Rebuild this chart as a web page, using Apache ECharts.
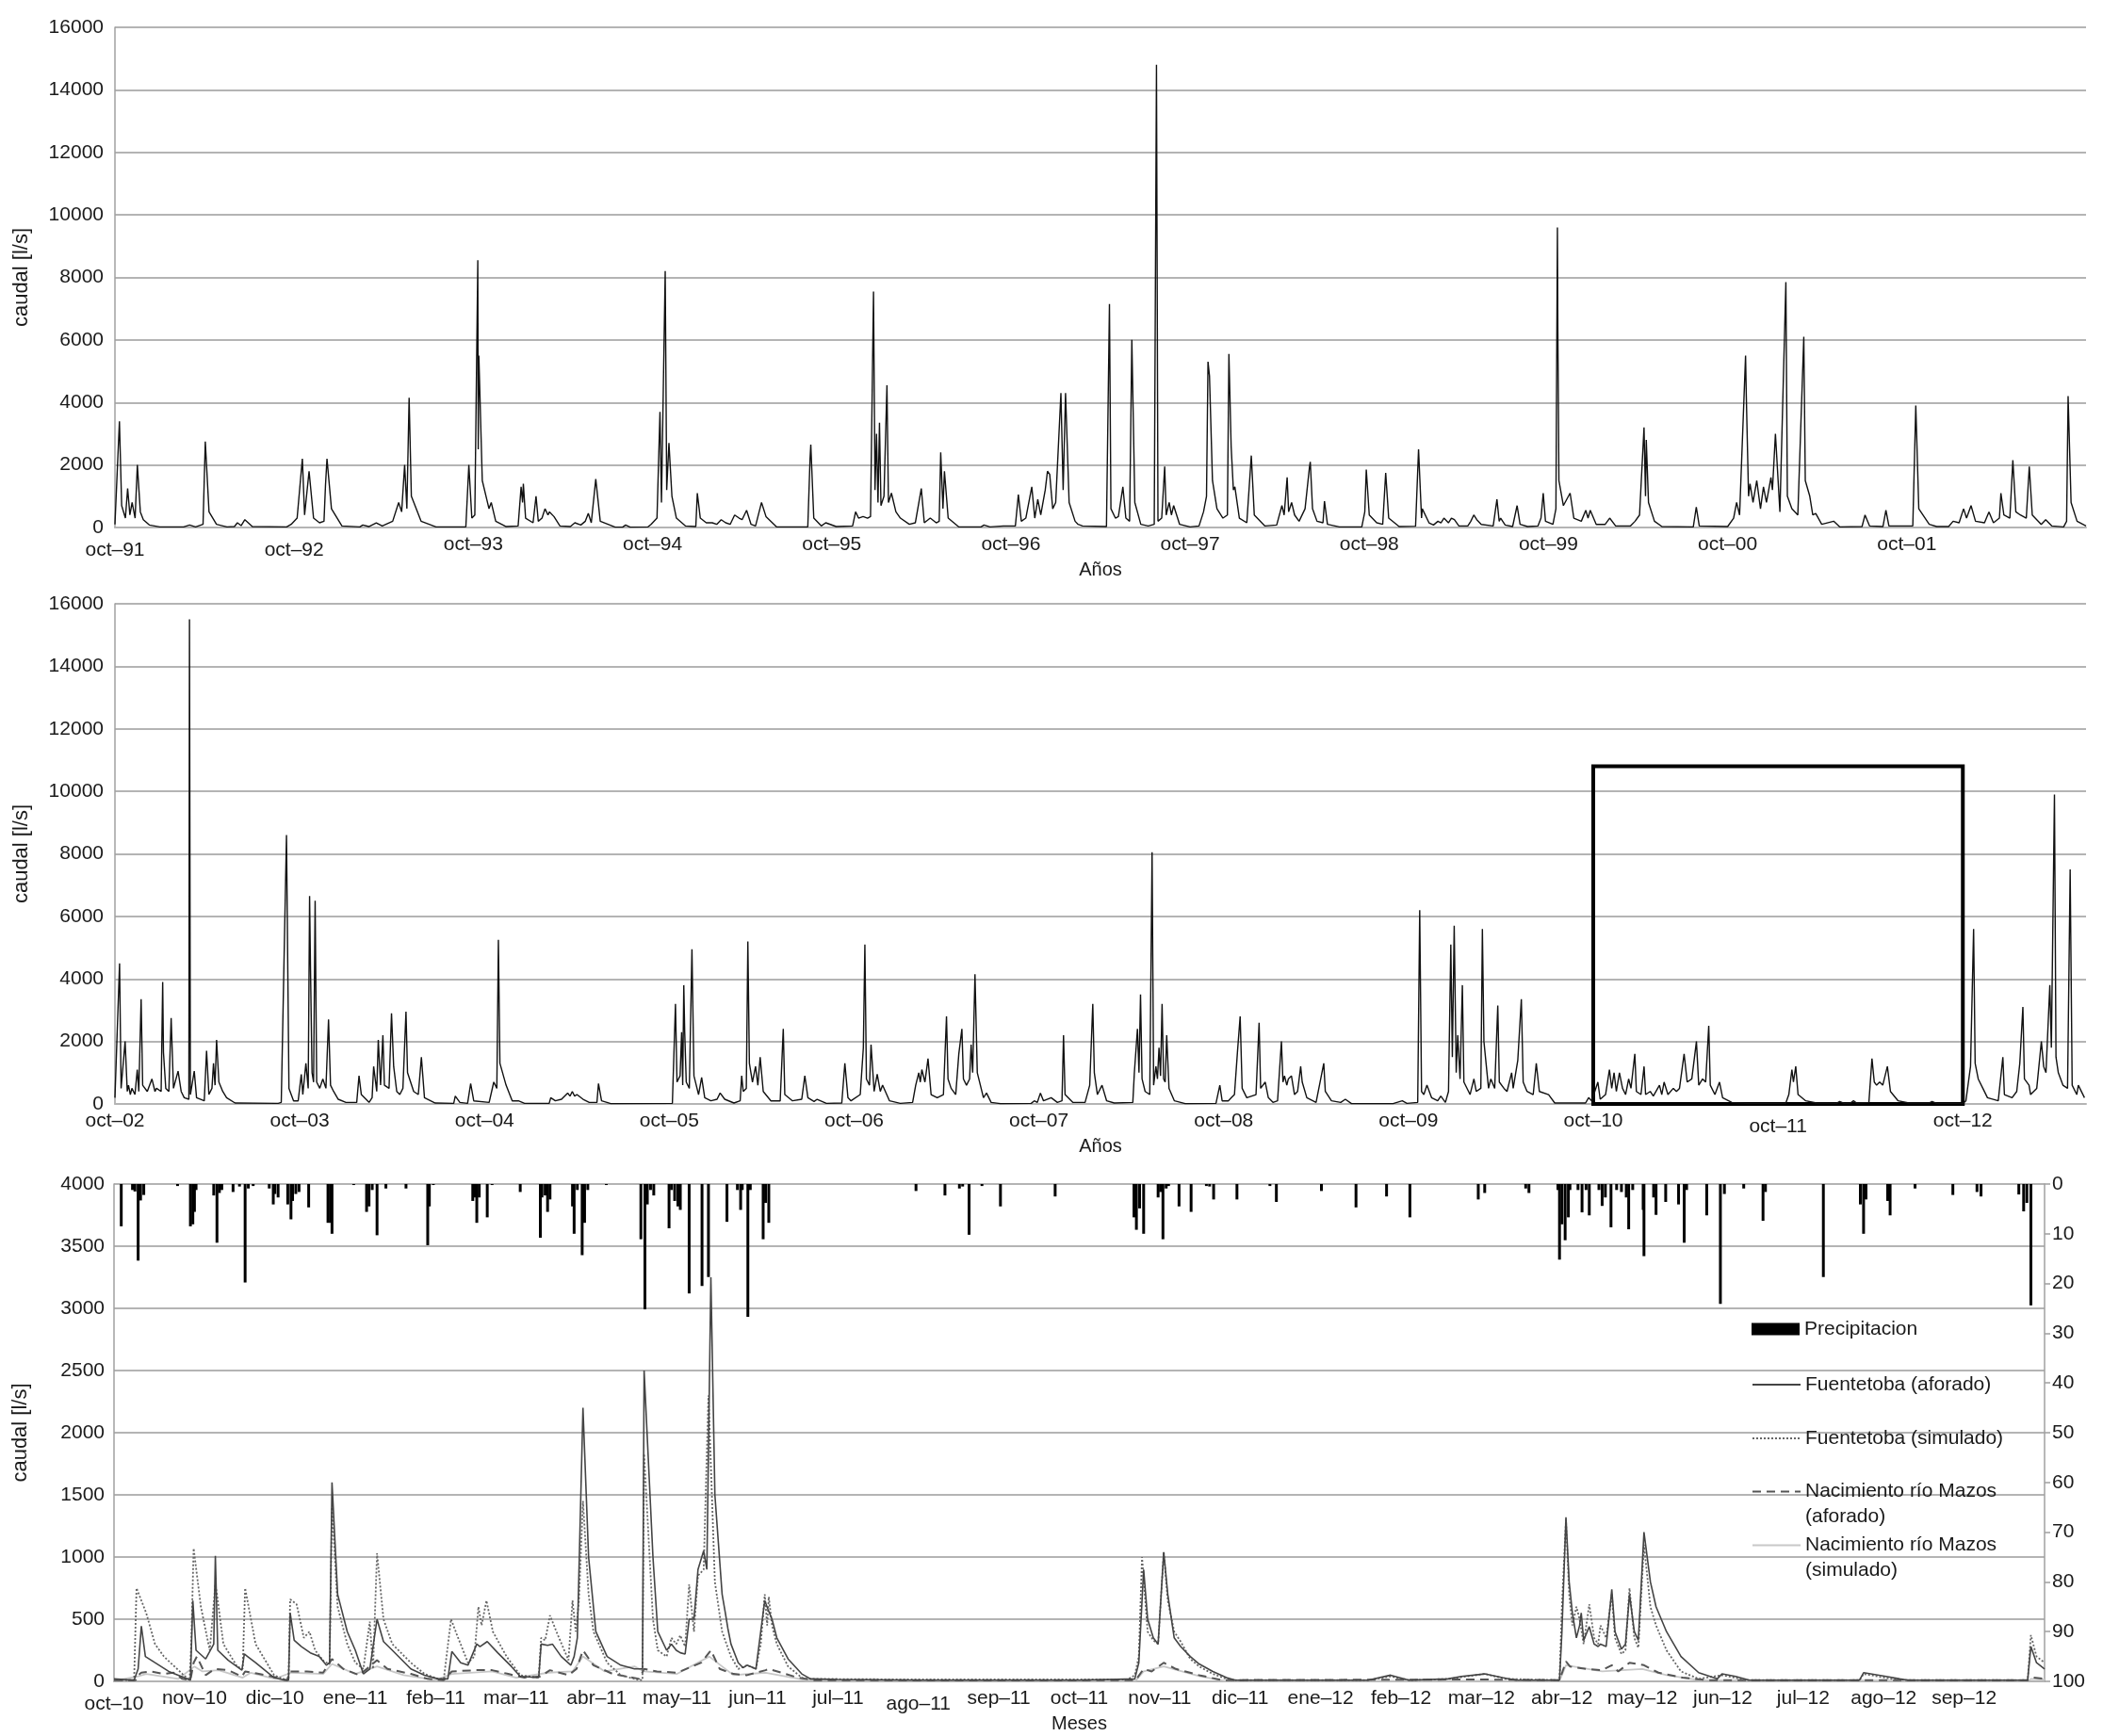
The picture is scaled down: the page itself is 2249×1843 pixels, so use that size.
<!DOCTYPE html>
<html><head><meta charset="utf-8">
<script src="https://cdn.jsdelivr.net/npm/echarts@6.0.0/dist/echarts.min.js"></script>
<style>html,body{margin:0;padding:0;background:#fff}#c{width:2249px;height:1843px}</style>
</head><body><div id="c"></div>
<script>
// ---- tick labels ----
const yearLabels9102 = ['oct–91','oct–92','oct–93','oct–94','oct–95','oct–96','oct–97','oct–98','oct–99','oct–00','oct–01'];
const yearLabels0213 = ['oct–02','oct–03','oct–04','oct–05','oct–06','oct–07','oct–08','oct–09','oct–10','oct–11','oct–12'];
const monthLabels = ['oct–10','nov–10','dic–10','ene–11','feb–11','mar–11','abr–11','may–11','jun–11','jul–11','ago–11','sep–11','oct–11','nov–11','dic–11','ene–12','feb–12','mar–12','abr–12','may–12','jun–12','jul–12','ago–12','sep–12'];
const seriesNames = ['Precipitacion','Fuentetoba (aforado)','Fuentetoba (simulado)','Nacimiento río Mazos (aforado)','Nacimiento río Mazos (simulado)'];

// ---- caudal oct-91 .. oct-02 : [months since oct-91, l/s] ----
const caudal9102 = [[0,100],[0.3,3400],[0.45,700],[0.7,300],[0.85,1250],[1.0,400],[1.15,800],[1.35,300],[1.5,2000],[1.7,500],[1.9,250],[2.3,80],[3.0,20],[4.6,20],[5.0,80],[5.4,20],[5.9,100],[6.05,2750],[6.3,500],[6.8,100],[7.5,20],[8.0,30],[8.2,150],[8.45,60],[8.7,250],[9.2,30],[11.5,20],[11.8,100],[12.2,300],[12.55,2200],[12.7,400],[13.0,1800],[13.3,300],[13.7,150],[14.0,200],[14.1,1350],[14.2,2200],[14.5,600],[15.2,50],[16.4,20],[16.6,80],[17.0,30],[17.5,150],[17.9,50],[18.6,200],[19.0,800],[19.2,500],[19.4,2000],[19.55,600],[19.7,4150],[19.85,1000],[20.5,200],[21.5,20],[23.5,20],[23.7,2000],[23.9,300],[24.1,400],[24.3,8550],[24.33,2500],[24.37,5500],[24.6,1500],[24.9,900],[25.05,600],[25.2,800],[25.5,200],[26.2,30],[27.0,50],[27.2,1300],[27.3,800],[27.35,1400],[27.5,300],[28.0,150],[28.2,1000],[28.35,200],[28.6,300],[28.8,600],[29.0,400],[29.1,500],[29.4,350],[29.8,50],[30.5,30],[30.8,150],[31.2,80],[31.5,200],[31.7,450],[31.9,150],[32.2,1550],[32.5,200],[33.5,10],[34.0,10],[34.2,80],[34.5,10],[35.7,20],[35.9,100],[36.3,300],[36.5,3700],[36.6,800],[36.85,8200],[36.95,1200],[37.1,2700],[37.3,1000],[37.6,300],[38.2,50],[38.9,30],[39.0,1100],[39.2,300],[39.6,150],[40.0,150],[40.3,100],[40.6,250],[40.9,150],[41.2,100],[41.5,400],[41.8,300],[42.0,250],[42.3,550],[42.6,100],[42.9,50],[43.3,800],[43.6,350],[44.3,20],[46.4,20],[46.55,2200],[46.6,2650],[46.8,300],[47.3,50],[47.6,150],[48.3,30],[49.4,50],[49.6,500],[49.8,300],[50.1,350],[50.4,300],[50.6,350],[50.8,7550],[50.9,1200],[51.0,3000],[51.1,800],[51.2,3350],[51.3,700],[51.5,1000],[51.7,4550],[51.8,800],[52.0,1100],[52.3,500],[52.6,300],[53.2,100],[53.6,150],[54.0,1250],[54.2,150],[54.6,300],[55.0,150],[55.2,200],[55.3,2400],[55.45,600],[55.55,1800],[55.8,300],[56.5,20],[58.0,20],[58.2,80],[58.6,20],[59.5,50],[60.3,50],[60.5,1050],[60.7,200],[61.0,300],[61.4,1300],[61.6,300],[61.8,900],[62.0,400],[62.3,1200],[62.45,1800],[62.6,1700],[62.8,600],[63.0,800],[63.35,4300],[63.5,1200],[63.66,4300],[63.9,800],[64.3,200],[64.5,100],[64.8,50],[66.4,30],[66.6,7150],[66.7,600],[67.0,300],[67.2,350],[67.5,1300],[67.7,300],[67.95,200],[68.1,6000],[68.3,800],[68.7,100],[69.2,50],[69.6,100],[69.75,14800],[69.85,200],[70.1,300],[70.3,1950],[70.4,400],[70.6,800],[70.75,400],[70.9,700],[71.3,100],[72.0,20],[72.6,50],[72.9,500],[73.1,1000],[73.2,5300],[73.3,4850],[73.5,1500],[73.8,600],[74.2,300],[74.5,400],[74.6,5550],[74.75,2600],[74.9,1200],[75.0,1300],[75.3,300],[75.8,150],[76.1,2300],[76.3,400],[77.0,50],[77.8,80],[78.15,700],[78.3,400],[78.5,1600],[78.6,500],[78.8,800],[79.0,400],[79.3,200],[79.7,600],[80.0,1950],[80.05,2100],[80.2,600],[80.5,200],[80.9,150],[81.0,840],[81.2,100],[82.0,20],[83.5,20],[83.7,500],[83.8,1850],[84.0,400],[84.5,150],[84.9,100],[85.1,1750],[85.3,300],[86.0,30],[87.1,40],[87.3,2500],[87.5,300],[87.55,600],[88.0,150],[88.3,80],[88.6,200],[88.8,150],[89.0,300],[89.3,150],[89.5,300],[89.7,250],[90.0,50],[90.6,50],[90.8,200],[91.0,400],[91.2,250],[91.5,100],[92.3,50],[92.55,900],[92.7,200],[92.8,300],[93.1,80],[93.6,30],[93.9,700],[94.1,100],[94.6,30],[95.3,50],[95.5,300],[95.65,1100],[95.8,200],[96.3,100],[96.5,600],[96.6,9600],[96.63,6300],[96.7,1500],[97.0,700],[97.45,1100],[97.7,300],[98.2,200],[98.5,550],[98.65,300],[98.8,550],[99.2,100],[99.8,100],[100.1,300],[100.5,50],[101.5,50],[101.8,200],[102.1,400],[102.4,3200],[102.5,1000],[102.55,2800],[102.7,800],[103.1,200],[103.6,30],[105.7,20],[105.9,650],[106.1,50],[108.0,30],[108.4,300],[108.6,800],[108.8,400],[109.2,5500],[109.25,4200],[109.4,1000],[109.5,1400],[109.7,800],[109.95,1500],[110.2,600],[110.4,1300],[110.6,800],[110.9,1600],[111.0,1200],[111.2,3000],[111.5,500],[111.9,7850],[112.0,1000],[112.3,600],[112.7,400],[113.1,6100],[113.2,1500],[113.5,1000],[113.7,400],[113.9,450],[114.3,100],[115.1,200],[115.5,20],[117.0,30],[117.2,400],[117.5,50],[118.4,30],[118.6,550],[118.8,50],[120.4,50],[120.6,3900],[120.8,600],[121.5,100],[122.0,30],[122.8,30],[123.1,200],[123.5,150],[123.8,600],[124.0,300],[124.3,700],[124.6,200],[125.2,150],[125.5,500],[125.8,150],[126.2,300],[126.3,1100],[126.5,400],[126.9,300],[127.1,2150],[127.3,500],[127.6,400],[128.0,300],[128.2,1950],[128.4,400],[129.0,100],[129.3,250],[129.7,50],[130.5,20],[130.7,200],[130.8,4200],[131.0,800],[131.4,200],[132.0,50]];

// ---- caudal oct-02 .. 2013 : [months since oct-02, l/s] ----
const caudal0213 = [[0,200],[0.3,4500],[0.4,500],[0.66,2000],[0.8,400],[0.88,600],[1.0,300],[1.1,500],[1.3,300],[1.45,1100],[1.55,400],[1.7,3350],[1.8,600],[2.1,400],[2.4,800],[2.6,400],[2.7,500],[3.0,400],[3.1,3900],[3.15,1650],[3.3,500],[3.5,400],[3.65,2750],[3.8,500],[4.1,1050],[4.3,400],[4.5,200],[4.8,150],[4.84,15500],[4.9,300],[5.15,1050],[5.3,200],[5.8,100],[5.95,1700],[6.1,300],[6.3,500],[6.4,1300],[6.5,600],[6.6,2050],[6.75,700],[7.0,400],[7.25,200],[7.8,30],[10.6,20],[10.8,50],[11.14,8600],[11.3,500],[11.6,100],[11.9,100],[12.1,950],[12.2,300],[12.4,1300],[12.55,500],[12.64,6650],[12.7,4300],[12.8,1000],[12.9,700],[13.0,6500],[13.1,700],[13.3,500],[13.5,800],[13.7,500],[13.87,2700],[14.0,600],[14.2,400],[14.5,150],[15.0,50],[15.7,50],[15.85,900],[16.0,300],[16.5,50],[16.7,200],[16.8,1200],[17.0,400],[17.1,2050],[17.25,600],[17.4,2200],[17.5,600],[17.8,500],[17.96,2900],[18.1,1200],[18.3,400],[18.5,300],[18.7,500],[18.9,2950],[19.0,1000],[19.4,400],[19.7,300],[19.9,1500],[20.1,200],[20.8,30],[22.0,20],[22.1,250],[22.4,50],[22.9,20],[23.1,650],[23.3,100],[24.3,50],[24.6,700],[24.8,500],[24.9,5250],[25.0,1300],[25.4,600],[25.8,100],[26.2,100],[26.6,20],[28.2,20],[28.3,200],[28.6,100],[29.0,150],[29.4,350],[29.55,250],[29.7,400],[29.85,250],[30.0,300],[30.4,150],[30.8,50],[31.3,50],[31.4,650],[31.6,100],[32.2,10],[36.2,20],[36.3,50],[36.4,3200],[36.5,700],[36.7,900],[36.8,2300],[36.87,600],[36.94,3800],[37.0,2300],[37.1,700],[37.3,500],[37.47,4950],[37.6,900],[37.9,300],[38.1,850],[38.3,200],[38.7,100],[39.1,150],[39.3,350],[39.6,150],[40.2,30],[40.6,100],[40.7,900],[40.8,400],[41.0,500],[41.1,5200],[41.2,1300],[41.4,700],[41.6,1200],[41.75,600],[41.9,1500],[42.1,400],[42.6,100],[43.2,100],[43.4,2400],[43.5,300],[44.0,100],[44.6,150],[44.8,900],[45.0,200],[45.4,80],[45.6,150],[46.2,20],[47.2,30],[47.4,1300],[47.6,200],[47.8,100],[48.4,300],[48.6,1800],[48.7,5100],[48.8,800],[49.0,600],[49.1,1900],[49.3,400],[49.5,950],[49.7,400],[49.85,600],[50.3,100],[51.0,20],[51.8,50],[52.0,600],[52.2,1000],[52.3,700],[52.4,1100],[52.6,700],[52.8,1450],[53.0,300],[53.4,200],[53.8,300],[54.0,2800],[54.1,800],[54.3,500],[54.6,300],[54.8,1600],[55.0,2400],[55.1,800],[55.3,600],[55.5,800],[55.6,1900],[55.7,1000],[55.85,4150],[56.0,1000],[56.4,200],[56.6,350],[56.9,50],[57.5,10],[59.5,20],[59.7,100],[59.9,50],[60.1,350],[60.3,100],[60.8,200],[61.2,50],[61.5,100],[61.6,2200],[61.7,300],[62.2,50],[63.0,50],[63.3,600],[63.5,3200],[63.6,1000],[63.8,300],[64.1,600],[64.4,100],[64.9,30],[66.1,50],[66.2,1000],[66.4,2400],[66.5,1000],[66.6,3500],[66.7,800],[66.9,400],[67.2,300],[67.35,8050],[67.45,600],[67.6,1200],[67.7,800],[67.8,1800],[67.9,900],[68.0,3200],[68.1,800],[68.2,700],[68.3,2200],[68.45,500],[68.8,100],[69.5,10],[71.5,20],[71.75,600],[71.9,100],[72.3,100],[72.5,200],[72.7,300],[72.9,1700],[73.07,2800],[73.2,500],[73.5,200],[74.1,300],[74.3,2600],[74.4,500],[74.7,700],[74.9,200],[75.2,50],[75.5,100],[75.75,2000],[75.85,700],[75.95,900],[76.1,600],[76.2,800],[76.4,900],[76.6,300],[76.8,400],[77.0,1200],[77.1,700],[77.4,200],[78.0,50],[78.5,1300],[78.6,400],[79.0,100],[79.6,50],[79.9,150],[80.3,10],[83.0,10],[83.6,100],[83.9,20],[84.6,50],[84.73,6200],[84.85,400],[85.0,300],[85.2,600],[85.5,200],[85.9,100],[86.1,250],[86.4,50],[86.6,400],[86.75,5100],[86.85,1500],[86.97,5700],[87.1,1000],[87.2,2200],[87.35,800],[87.5,3800],[87.6,700],[88.0,300],[88.25,800],[88.4,400],[88.7,500],[88.8,5600],[88.9,2000],[89.1,1000],[89.2,500],[89.35,800],[89.6,500],[89.8,3150],[89.9,700],[90.2,500],[90.4,400],[90.7,1000],[90.8,500],[91.1,1400],[91.33,3350],[91.45,700],[91.7,400],[92.1,300],[92.3,1300],[92.5,400],[93.1,300],[93.5,30],[95.5,30],[95.7,200],[95.9,100],[96.3,700],[96.45,150],[96.8,300],[97.05,1100],[97.2,500],[97.35,1000],[97.5,400],[97.7,1000],[97.9,500],[98.1,300],[98.3,800],[98.45,500],[98.7,1600],[98.8,400],[99.1,300],[99.3,1200],[99.4,300],[99.7,400],[99.9,250],[100.0,300],[100.3,600],[100.45,300],[100.6,700],[100.85,300],[101.2,500],[101.4,400],[101.6,500],[101.9,1600],[102.1,700],[102.4,800],[102.7,2000],[102.85,600],[103.1,800],[103.3,700],[103.5,2500],[103.6,600],[103.9,300],[104.2,700],[104.4,200],[105.0,50],[106.0,20],[108.5,20],[108.7,300],[108.9,1100],[109.0,700],[109.15,1200],[109.3,300],[109.8,100],[110.5,30],[111.8,20],[112.0,80],[112.3,20],[112.7,30],[112.9,100],[113.1,30],[113.9,50],[114.1,1450],[114.25,700],[114.4,600],[114.6,700],[114.8,600],[115.1,1200],[115.3,400],[115.8,100],[116.5,30],[117.8,30],[118.0,80],[118.3,20],[120.0,20],[120.2,100],[120.5,1200],[120.7,5600],[120.8,1300],[121.0,800],[121.3,500],[121.6,200],[122.3,100],[122.6,1500],[122.7,300],[123.2,200],[123.5,400],[123.7,1300],[123.9,3100],[124.0,800],[124.3,600],[124.4,300],[124.8,500],[125.1,2000],[125.25,1200],[125.4,1000],[125.65,3800],[125.75,1800],[125.95,9900],[126.05,1500],[126.2,1000],[126.5,600],[126.8,500],[126.97,7500],[127.1,600],[127.4,300],[127.5,600],[127.9,200]];

// ---- detail oct-10 .. oct-12 : [months since oct-10, value] ----
const fuentetobaAforado = [[0,20],[0.25,10],[0.3,100],[0.34,445],[0.39,200],[0.51,150],[0.68,80],[0.91,20],[0.95,10],[0.98,650],[1.02,250],[1.14,180],[1.24,300],[1.26,1010],[1.29,250],[1.42,170],[1.59,90],[1.62,220],[1.66,200],[1.76,150],[1.99,30],[2.12,10],[2.17,10],[2.19,550],[2.24,330],[2.33,280],[2.44,230],[2.55,200],[2.64,130],[2.68,150],[2.71,1600],[2.78,700],[2.9,400],[3.0,250],[3.1,60],[3.18,100],[3.27,500],[3.35,320],[3.46,250],[3.69,100],[3.86,50],[4.03,20],[4.15,20],[4.2,240],[4.31,150],[4.4,130],[4.51,300],[4.55,280],[4.64,320],[4.77,230],[4.94,120],[5.05,40],[5.28,30],[5.31,300],[5.39,290],[5.45,300],[5.56,200],[5.68,130],[5.72,200],[5.76,350],[5.83,2200],[5.9,1000],[5.99,400],[6.13,200],[6.3,130],[6.47,100],[6.57,100],[6.59,2500],[6.7,1000],[6.76,400],[6.87,250],[6.93,300],[6.99,250],[7.04,230],[7.1,220],[7.15,500],[7.21,500],[7.26,900],[7.33,1050],[7.37,900],[7.42,3250],[7.47,1500],[7.56,700],[7.6,550],[7.63,430],[7.67,300],[7.76,150],[7.82,110],[7.87,130],[7.98,100],[8.04,400],[8.09,650],[8.13,580],[8.18,500],[8.24,350],[8.38,180],[8.55,60],[8.66,20],[9.0,15],[10.0,10],[11.0,10],[12.0,10],[12.69,20],[12.74,150],[12.8,900],[12.85,500],[12.92,350],[12.98,300],[13.05,1040],[13.1,700],[13.18,350],[13.26,280],[13.38,200],[13.49,140],[13.66,80],[13.83,30],[13.94,10],[15.59,10],[15.87,50],[16.1,10],[16.58,20],[16.75,40],[17.04,60],[17.26,30],[17.43,10],[17.97,10],[18.0,400],[18.05,1320],[18.09,800],[18.13,550],[18.18,350],[18.22,450],[18.24,550],[18.27,330],[18.34,440],[18.4,300],[18.45,280],[18.48,300],[18.55,280],[18.62,740],[18.66,400],[18.74,260],[18.79,300],[18.84,700],[18.9,400],[18.95,330],[19.02,1200],[19.1,800],[19.17,600],[19.3,400],[19.48,200],[19.7,70],[19.93,20],[19.99,60],[20.16,40],[20.33,10],[21.7,10],[21.75,70],[22.03,40],[22.2,20],[22.3,10],[23.79,10],[23.83,280],[23.9,150],[24.0,100]];

const fuentetobaSimulado = [[0,10],[0.25,10],[0.28,750],[0.4,550],[0.51,300],[0.62,200],[0.85,60],[0.94,10],[0.96,300],[0.99,1070],[1.08,600],[1.19,250],[1.26,780],[1.28,700],[1.36,300],[1.53,120],[1.6,100],[1.63,750],[1.76,300],[1.99,50],[2.14,10],[2.17,10],[2.19,660],[2.27,620],[2.36,350],[2.43,400],[2.5,250],[2.61,160],[2.68,140],[2.71,1400],[2.78,600],[2.9,300],[3.0,150],[3.1,100],[3.18,480],[3.22,100],[3.27,1030],[3.35,500],[3.46,300],[3.69,150],[3.86,60],[4.03,20],[4.1,20],[4.19,500],[4.26,380],[4.4,150],[4.48,200],[4.53,600],[4.57,450],[4.63,650],[4.71,400],[4.88,200],[5.05,50],[5.28,30],[5.31,350],[5.36,330],[5.42,530],[5.5,400],[5.65,170],[5.7,650],[5.74,400],[5.78,650],[5.83,1450],[5.9,700],[5.96,400],[6.13,150],[6.3,50],[6.53,10],[6.57,10],[6.59,1830],[6.7,500],[6.76,250],[6.87,200],[6.93,350],[6.99,300],[7.04,370],[7.1,280],[7.15,780],[7.21,400],[7.26,850],[7.33,900],[7.39,2300],[7.47,800],[7.56,400],[7.67,200],[7.76,100],[7.87,130],[7.98,100],[8.04,300],[8.09,700],[8.12,450],[8.14,680],[8.18,450],[8.24,300],[8.38,120],[8.55,30],[8.66,20],[10.0,15],[12.6,15],[12.69,50],[12.74,200],[12.78,1000],[12.85,400],[12.92,330],[12.98,300],[13.05,1040],[13.1,650],[13.18,400],[13.26,320],[13.38,180],[13.49,120],[13.66,60],[13.83,20],[13.94,10],[15.6,10],[15.87,40],[16.1,10],[16.6,20],[17.04,60],[17.3,20],[17.97,10],[18.0,600],[18.05,1300],[18.09,700],[18.13,450],[18.18,600],[18.22,500],[18.27,300],[18.34,620],[18.4,350],[18.45,300],[18.48,450],[18.55,350],[18.62,700],[18.66,350],[18.74,220],[18.79,250],[18.84,750],[18.9,350],[18.95,270],[19.02,1100],[19.1,600],[19.17,450],[19.3,250],[19.48,80],[19.7,20],[19.99,50],[20.3,10],[21.7,10],[21.75,60],[22.1,20],[22.3,10],[23.79,10],[23.83,372],[23.9,200],[24.0,150]];

const mazosAforado = [[0,10],[0.27,10],[0.3,50],[0.34,70],[0.45,80],[0.62,60],[0.74,70],[0.85,20],[0.95,10],[0.99,150],[1.03,200],[1.14,50],[1.25,100],[1.42,90],[1.59,40],[1.63,80],[1.8,60],[2.03,30],[2.15,10],[2.19,80],[2.4,80],[2.6,70],[2.71,180],[2.85,100],[3.05,50],[3.27,170],[3.4,100],[3.69,60],[3.9,20],[4.1,10],[4.2,80],[4.5,90],[4.7,90],[4.9,60],[5.1,30],[5.3,40],[5.42,90],[5.65,50],[5.75,100],[5.83,250],[5.96,130],[6.2,60],[6.53,20],[6.59,100],[6.75,80],[7.0,70],[7.3,150],[7.42,250],[7.53,100],[7.7,60],[7.87,50],[8.1,90],[8.14,100],[8.3,70],[8.5,30],[8.7,10],[12.7,10],[12.8,100],[12.9,80],[13.05,150],[13.2,100],[13.49,50],[13.77,10],[17.0,15],[17.97,10],[18.05,160],[18.1,120],[18.3,100],[18.5,90],[18.62,130],[18.7,80],[18.84,150],[19.02,130],[19.2,70],[19.5,30],[19.8,10],[23.8,10],[23.86,30],[24.0,20]];

const mazosSimulado = [[0,5],[0.3,40],[0.4,60],[0.8,20],[1.0,120],[1.1,80],[1.3,90],[1.6,30],[1.7,70],[2.0,20],[2.2,70],[2.6,60],[2.71,140],[3.0,60],[3.27,120],[3.6,50],[4.0,10],[4.2,60],[4.7,80],[5.0,30],[5.4,70],[5.7,80],[5.83,200],[6.1,80],[6.47,120],[6.59,80],[7.0,60],[7.4,200],[7.7,50],[8.1,70],[8.6,10],[12.7,5],[12.8,80],[13.05,120],[13.5,40],[13.8,5],[17.97,5],[18.05,130],[18.5,80],[19.0,100],[19.3,50],[19.7,10],[23.8,5],[23.83,20],[24.0,15]];

const precipitacion = [[0.09,8.5],[0.23,1.2],[0.26,1.5],[0.3,15.4],[0.33,3.3],[0.37,2.2],[0.79,0.4],[0.95,8.5],[0.98,8.1],[1.0,5.6],[1.02,1.2],[1.24,2.3],[1.28,11.8],[1.31,1.8],[1.34,1.2],[1.48,1.6],[1.56,0.5],[1.63,19.8],[1.67,0.9],[1.73,0.4],[1.93,0.9],[1.98,4.1],[2.0,2.0],[2.04,2.7],[2.16,4.1],[2.2,7.1],[2.22,3.4],[2.26,2.0],[2.3,1.6],[2.42,4.7],[2.66,7.8],[2.69,7.8],[2.71,10],[2.98,0.2],[3.14,5.6],[3.17,4.5],[3.21,1.2],[3.27,10.3],[3.38,0.9],[3.63,0.9],[3.9,12.3],[3.92,4.5],[3.97,0.2],[4.46,3.4],[4.48,2.7],[4.51,7.8],[4.54,2.7],[4.64,6.7],[4.7,0.2],[5.05,1.6],[5.3,10.8],[5.32,2.7],[5.36,2.3],[5.39,5.6],[5.42,3.1],[5.7,4.5],[5.72,10],[5.76,1.2],[5.82,14.3],[5.85,7.8],[5.89,1.2],[6.12,0.2],[6.55,11.1],[6.6,25.2],[6.63,4.1],[6.67,1.2],[6.71,2.3],[6.9,8.9],[6.93,1.2],[6.97,3.4],[7.01,4.5],[7.04,5.2],[7.15,22],[7.31,20.5],[7.39,18.7],[7.62,7.6],[7.75,1.2],[7.79,5.2],[7.81,1.2],[7.88,26.7],[7.91,1.2],[8.07,11.1],[8.1,3.8],[8.14,7.8],[9.97,1.4],[10.33,2.3],[10.51,0.9],[10.55,0.5],[10.63,10.2],[10.79,0.4],[11.02,4.5],[11.7,2.5],[12.68,6.7],[12.71,9.2],[12.75,4.9],[12.8,10],[12.98,2.7],[13.01,1.6],[13.04,11.1],[13.08,0.9],[13.11,0.4],[13.24,4.5],[13.39,5.6],[13.58,0.4],[13.62,0.5],[13.67,3.1],[13.96,3.1],[14.37,0.4],[14.45,3.6],[15.01,1.4],[15.44,4.7],[15.82,2.5],[16.11,6.7],[16.96,3.1],[17.04,1.8],[17.55,0.9],[17.59,1.8],[17.95,1.2],[17.97,15.2],[18.0,8.1],[18.04,11.3],[18.08,6.7],[18.1,1.2],[18.2,1.2],[18.25,5.7],[18.3,1.2],[18.34,6.3],[18.46,1.2],[18.5,4.4],[18.54,2.7],[18.61,8.7],[18.68,1.2],[18.74,1.6],[18.8,2.7],[18.83,9.1],[18.88,1.2],[19.01,5.2],[19.02,14.5],[19.14,2.7],[19.17,6.2],[19.29,3.6],[19.45,4.1],[19.52,11.8],[19.55,1.2],[19.8,6.3],[19.97,24.1],[20.02,2.0],[20.26,0.9],[20.5,7.4],[20.53,1.6],[21.25,18.7],[21.71,4.1],[21.75,10],[21.78,3.1],[22.05,3.4],[22.08,6.3],[22.39,0.9],[22.86,2.2],[23.16,1.6],[23.21,2.5],[23.68,2.1],[23.74,5.5],[23.78,3.8],[23.83,24.4]];

// ---- styling ----
const FONT = '"Liberation Sans", Arial, sans-serif';
const TXT = '#1a1a1a';
const GRIDC = '#b4b4b4';
const AXC = '#a0a0a0';
const lbl = (extra) => Object.assign({fontSize: 21, color: TXT, fontFamily: FONT}, extra || {});

function yearFormatter(labels, lowSet) {
  return function (v) {
    const i = v / 12;
    const s = Number.isInteger(i) ? labels[i] : undefined;
    if (!s) return '';
    return lowSet.indexOf(v) >= 0 ? '{low|' + s + '}' : s;
  };
}

function caudalY(gridIndex, max, interval, margin) {
  return {
    gridIndex, type: 'value', min: 0, max, interval,
    name: 'caudal [l/s]', nameLocation: 'middle', nameGap: 88, nameRotate: 90,
    nameTextStyle: lbl({fontSize: 22}),
    axisLine: {show: true, lineStyle: {color: AXC, width: 1.5}},
    axisTick: {show: false},
    axisLabel: lbl({margin, formatter: v => String(v)}),
    splitLine: {show: true, lineStyle: {color: GRIDC, width: 2}}
  };
}

const lowRich = {low: lbl({padding: [6, 0, 0, 0]})};
const hideSym = {opacity: 0, borderWidth: 0};

const chart = echarts.init(document.getElementById('c'), null, {renderer: 'canvas'});
chart.setOption({
  animation: false,
  backgroundColor: '#fff',
  textStyle: {fontFamily: FONT},
  grid: [
    {left: 122, top: 29, width: 2092, height: 531},
    {left: 122, top: 641, width: 2092, height: 531},
    {left: 121, top: 1257, width: 2049, height: 528}
  ],
  xAxis: [
    {gridIndex: 0, type: 'value', min: 0, max: 132, interval: 12,
     name: 'Años', nameLocation: 'middle', nameGap: 26, nameTextStyle: lbl({fontSize: 20}),
     axisLine: {show: true, onZero: false, lineStyle: {color: GRIDC, width: 2}},
     axisTick: {show: false}, splitLine: {show: false},
     axisLabel: lbl({margin: 8, formatter: yearFormatter(yearLabels9102, [0, 12]), rich: lowRich, showMaxLabel: false})},
    {gridIndex: 1, type: 'value', min: 0, max: 128, interval: 12,
     name: 'Años', nameLocation: 'middle', nameGap: 26, nameTextStyle: lbl({fontSize: 20}),
     axisLine: {show: true, onZero: false, lineStyle: {color: GRIDC, width: 2}},
     axisTick: {show: false}, splitLine: {show: false},
     axisLabel: lbl({margin: 8, formatter: yearFormatter(yearLabels0213, [108]), rich: lowRich})},
    {gridIndex: 2, type: 'value', min: 0, max: 24, interval: 1,
     name: 'Meses', nameLocation: 'middle', nameGap: 33, nameTextStyle: lbl({fontSize: 20}),
     axisLine: {show: true, onZero: false, lineStyle: {color: GRIDC, width: 2}},
     axisTick: {show: false}, splitLine: {show: false},
     axisLabel: lbl({margin: 8, rich: lowRich, formatter: function (v) {
       const s = monthLabels[v]; if (!s) return '';
       return (v === 0 || v === 10) ? '{low|' + s + '}' : s; }})}
  ],
  yAxis: [
    caudalY(0, 16000, 2000, 12),
    caudalY(1, 16000, 2000, 12),
    caudalY(2, 4000, 500, 10),
    {gridIndex: 2, type: 'value', position: 'right', inverse: true, min: 0, max: 100, interval: 10,
     axisLine: {show: true, lineStyle: {color: AXC, width: 1.5}},
     axisTick: {show: true, length: 6, lineStyle: {color: AXC, width: 1.5}},
     axisLabel: lbl({margin: 8}),
     splitLine: {show: false}}
  ],
  legend: [
    {data: [seriesNames[0]], left: 1859, top: 1399, padding: 0, icon: 'rect', itemWidth: 51, itemHeight: 13,
     textStyle: lbl({lineHeight: 24}), selectedMode: false},
    {data: [seriesNames[1]], left: 1859, top: 1458, padding: 0, itemWidth: 51, itemHeight: 14, itemStyle: hideSym,
     textStyle: lbl({lineHeight: 24}), selectedMode: false},
    {data: [seriesNames[2]], left: 1859, top: 1515, padding: 0, itemWidth: 51, itemHeight: 14, itemStyle: hideSym,
     textStyle: lbl({lineHeight: 24}), selectedMode: false},
    {data: [seriesNames[3]], left: 1859, top: 1543, padding: 0, itemWidth: 51, itemHeight: 14, itemStyle: hideSym,
     formatter: () => '\nNacimiento río Mazos\n(aforado)',
     textStyle: lbl({lineHeight: 27}), selectedMode: false},
    {data: [seriesNames[4]], left: 1859, top: 1600, padding: 0, itemWidth: 51, itemHeight: 14, itemStyle: hideSym,
     formatter: () => '\nNacimiento río Mazos\n(simulado)',
     textStyle: lbl({lineHeight: 27}), selectedMode: false}
  ],
  series: [
    {type: 'line', xAxisIndex: 0, yAxisIndex: 0, data: caudal9102, symbol: 'none', silent: true,
     lineStyle: {color: '#111', width: 1.4}},
    {type: 'line', xAxisIndex: 1, yAxisIndex: 1, data: caudal0213, symbol: 'none', silent: true, clip: false,
     lineStyle: {color: '#111', width: 1.4},
     markArea: {silent: true, itemStyle: {color: 'rgba(0,0,0,0)', borderColor: '#000', borderWidth: 4},
       data: [[{coord: [96, -150]}, {coord: [120, 10800]}]]}},
    {name: seriesNames[4], type: 'line', xAxisIndex: 2, yAxisIndex: 2, data: mazosSimulado, symbol: 'none',
     lineStyle: {color: '#c8c8c8', width: 1.8}, itemStyle: {color: '#c8c8c8'}},
    {name: seriesNames[3], type: 'line', xAxisIndex: 2, yAxisIndex: 2, data: mazosAforado, symbol: 'none',
     lineStyle: {color: '#555', width: 2, type: [9, 6]}, itemStyle: {color: '#555'}},
    {name: seriesNames[2], type: 'line', xAxisIndex: 2, yAxisIndex: 2, data: fuentetobaSimulado, symbol: 'none',
     lineStyle: {color: '#666', width: 1.8, type: [2, 2]}, itemStyle: {color: '#666'}},
    {name: seriesNames[1], type: 'line', xAxisIndex: 2, yAxisIndex: 2, data: fuentetobaAforado, symbol: 'none',
     lineStyle: {color: '#444', width: 1.6}, itemStyle: {color: '#444'}},
    {name: seriesNames[0], type: 'bar', xAxisIndex: 2, yAxisIndex: 3, data: precipitacion, barWidth: 3,
     itemStyle: {color: '#000'}}
  ]
});
</script>
</body></html>
